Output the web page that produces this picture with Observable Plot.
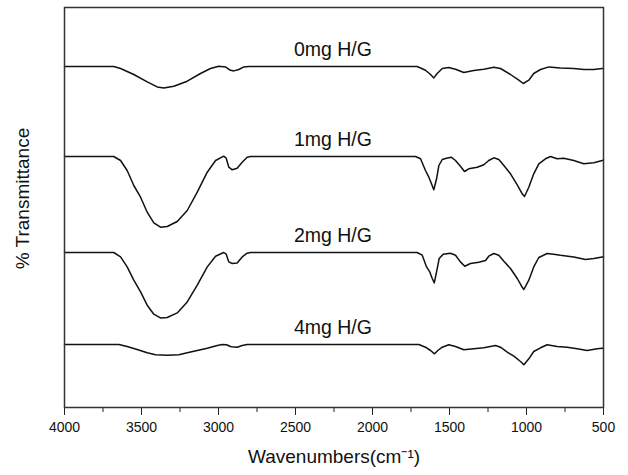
<!DOCTYPE html>
<html>
<head>
<meta charset="utf-8">
<script src="https://cdn.jsdelivr.net/npm/d3@7"></script>
<script src="https://cdn.jsdelivr.net/npm/@observablehq/plot@0.6"></script>
<style>
  html, body { margin: 0; padding: 0; background: #fff; }
  #chart svg { display: block; }
</style>
</head>
<body>
<div id="chart"></div>
<script>
const seriesNames = ["0mg H/G", "1mg H/G", "2mg H/G", "4mg H/G"];
// vertical stacking offset of each spectrum (baseline level)
const offsets = [341, 251, 155, 63];

const wn0 = [4000, 3680, 3636, 3550, 3463, 3398, 3355, 3290, 3203, 3117, 3052, 2998, 2955, 2927, 2901, 2868, 2836, 2803, 1710, 1656, 1623, 1602, 1580, 1547, 1505, 1461, 1407, 1342, 1277, 1212, 1169, 1104, 1050, 1021, 985, 953, 909, 855, 780, 693, 628, 563, 508, 500];
const t0 = [100, 100, 98, 92, 84.6, 79.6, 78.6, 80.3, 85.3, 93, 98, 100.3, 99.6, 96.6, 95.6, 97, 99.6, 100, 100, 96.3, 92, 88.6, 93, 98, 99, 97.3, 94, 96, 97.3, 99.3, 98, 92, 86.3, 83, 86.3, 93, 97, 99.6, 98.6, 98, 97, 97, 98, 98];

const wn1 = [4000, 3680, 3636, 3593, 3550, 3506, 3463, 3420, 3377, 3333, 3268, 3203, 3138, 3073, 3019, 2966, 2950, 2933, 2911, 2879, 2846, 2814, 2792, 1721, 1688, 1656, 1634, 1617, 1602, 1584, 1569, 1547, 1520, 1489, 1461, 1429, 1403, 1375, 1320, 1277, 1245, 1212, 1180, 1147, 1104, 1060, 1028, 1013, 985, 953, 920, 877, 844, 801, 758, 693, 628, 563, 508, 500];
const t1 = [100, 100, 96, 86, 71, 59.3, 44.3, 33.7, 29.3, 30, 35, 46, 64.3, 84.3, 96, 100.3, 98.3, 89.3, 86.7, 88.3, 94.3, 99.3, 100, 100, 97.7, 86, 79.3, 72.7, 66.7, 77.7, 91, 97, 98.3, 99.3, 96, 90.3, 85, 87.7, 89.3, 91.7, 96, 98.7, 97, 91, 82.7, 71.7, 62.7, 60, 69.3, 82.7, 92.7, 97.7, 100, 97.7, 98.3, 96, 92.7, 93.7, 96, 96.5];

const wn2 = [4000, 3680, 3636, 3593, 3550, 3506, 3463, 3420, 3377, 3333, 3268, 3203, 3138, 3073, 3019, 2966, 2950, 2933, 2911, 2879, 2846, 2814, 2792, 1710, 1677, 1649, 1628, 1612, 1599, 1584, 1567, 1541, 1494, 1461, 1429, 1401, 1364, 1310, 1266, 1245, 1212, 1180, 1147, 1104, 1060, 1032, 1017, 985, 953, 920, 866, 823, 780, 693, 617, 563, 508, 500];
const t2 = [100, 100, 95.6, 85.6, 72.3, 60.6, 47.3, 38.3, 34.6, 35, 39.6, 50.6, 67.3, 85.6, 96.3, 100, 98.3, 90.6, 89, 89.6, 95.6, 99.3, 100, 100, 97.3, 85.6, 80.6, 74, 69.6, 80.6, 94, 98.3, 99.3, 97.3, 90.6, 86.3, 89, 90.3, 92, 96.3, 99, 97.3, 91.3, 84, 74, 66.3, 63, 72.3, 85.6, 95, 99, 98.3, 97.3, 95.6, 93, 94, 95.6, 95.8];

const wn3 = [4000, 3647, 3593, 3528, 3463, 3409, 3333, 3258, 3203, 3138, 3073, 3008, 2976, 2948, 2918, 2879, 2846, 2814, 1699, 1656, 1623, 1597, 1576, 1547, 1505, 1461, 1407, 1342, 1277, 1201, 1169, 1125, 1082, 1039, 1017, 985, 953, 909, 866, 801, 736, 671, 606, 541, 508, 500];
const t3 = [100, 100, 98, 95, 91.7, 89.7, 89.3, 89.7, 91.7, 94, 96.3, 99, 100, 99.7, 97.7, 97.3, 99, 100, 100, 97.3, 94, 90.7, 94, 97.3, 99.7, 98, 94.7, 95.7, 96.7, 99, 97.3, 92.3, 88.3, 83, 79.7, 85.7, 93, 96.7, 99.7, 98, 97.3, 95.7, 94, 95.7, 96.3, 96.3];

const majorTicks = [4000, 3500, 3000, 2500, 2000, 1500, 1000, 500];
const minorTicks = [3750, 3250, 2750, 2250, 1750, 1250, 750];
const xLabel = "Wavenumbers(cm\u207B\u00B9)";
const yLabel = "% Transmittance";
const labelWn = 2257;

const wns = [wn0, wn1, wn2, wn3];
const ts = [t0, t1, t2, t3];
const rows = [];
seriesNames.forEach((name, i) => {
  wns[i].forEach((w, j) => rows.push({series: name, wn: w, v: offsets[i] + ts[i][j] - 100}));
});
const labels = seriesNames.map((name, i) => ({name, wn: labelWn, v: offsets[i] + 16.5}));

const FONT = "'Liberation Sans', Arial, sans-serif";
const chart = Plot.plot({
  width: 628,
  height: 475,
  marginLeft: 64,
  marginRight: 25,
  marginTop: 7,
  marginBottom: 68,
  style: {fontFamily: FONT, fontSize: "14px", color: "#111", background: "#fff"},
  x: {domain: [4000, 500]},
  y: {domain: [0, 400], axis: null},
  marks: [
    Plot.axisX({ticks: majorTicks, tickSize: 8, tickPadding: 7, tickFormat: d => String(d), label: null, fontSize: 14, stroke: "#222"}),
    Plot.axisX({ticks: minorTicks, tickSize: 5, tickFormat: () => "", label: null, stroke: "#222"}),
    Plot.line(rows, {x: "wn", y: "v", z: "series", stroke: "#111", strokeWidth: 1.5}),
    Plot.text(labels, {x: "wn", y: "v", text: "name", fontSize: 19.5, fill: "#111"}),
    Plot.text([xLabel], {frameAnchor: "bottom", dy: 55, text: d => d, fontSize: 19, fill: "#111"}),
    Plot.text([yLabel], {frameAnchor: "left", textAnchor: "middle", dx: -42, dy: -9, rotate: -90, text: d => d, fontSize: 19, fill: "#111"}),
    Plot.frame({stroke: "#333", strokeWidth: 1.5})
  ]
});
document.getElementById("chart").appendChild(chart);
</script>
</body>
</html>
